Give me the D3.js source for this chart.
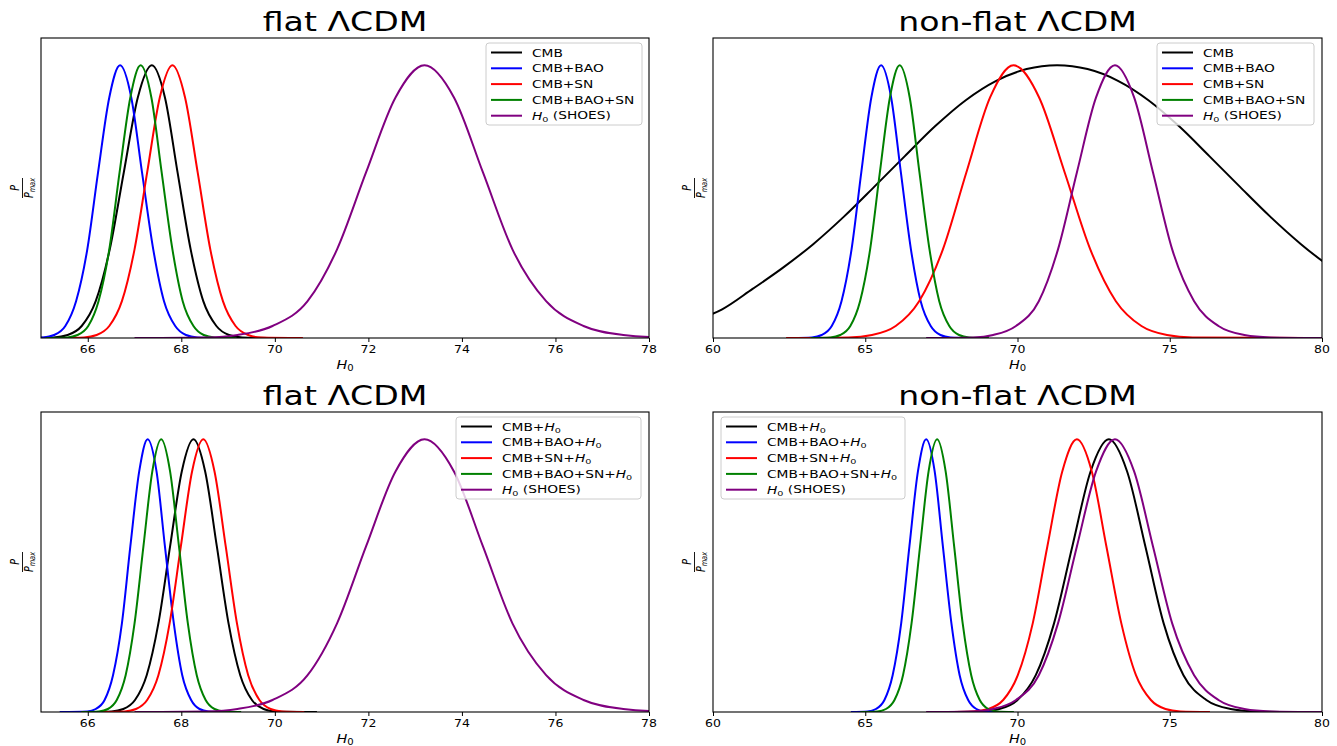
<!DOCTYPE html>
<html><head><meta charset="utf-8">
<script src="https://cdn.jsdelivr.net/npm/d3@7"></script>
<style>body{margin:0;background:#fff}svg{display:block}text{font-family:"DejaVu Sans",sans-serif}</style>
</head><body><svg id="c" width="1337" height="746"></svg>
<script>
// ---- data (H0 values where each curve crosses the shared probability levels) ----
const levels = [0, 0.0022, 0.011, 0.044, 0.135, 0.325, 0.607, 0.882, 1, 0.882, 0.607, 0.325, 0.135, 0.044, 0.011, 0.0022, 0];
const shoesH0 = [67.0, 68.55, 69.20, 69.95, 70.70, 71.33, 71.95, 72.58, 73.20, 73.83, 74.45, 75.08, 75.80, 76.60, 77.45, 78.30, 80.0];

const flatCMB   = [64.67, 65.27, 65.57, 65.87, 66.17, 66.47, 66.77, 67.07, 67.37, 67.65, 67.92, 68.20, 68.47, 68.75, 69.02, 69.30, 69.85];
const flatBAO   = [64.58, 65.05, 65.28, 65.52, 65.75, 65.99, 66.22, 66.46, 66.69, 66.93, 67.16, 67.40, 67.63, 67.87, 68.10, 68.34, 68.81];
const flatSN    = [65.38, 65.92, 66.19, 66.46, 66.73, 67.00, 67.27, 67.54, 67.81, 68.08, 68.35, 68.62, 68.89, 69.16, 69.43, 69.70, 70.60];
const flatBAOSN = [65.11, 65.56, 65.78, 66.01, 66.23, 66.46, 66.68, 66.91, 67.13, 67.36, 67.58, 67.81, 68.03, 68.26, 68.48, 68.71, 69.16];

const nonflatCMB_H0 = [59.3, 60.3, 61.3, 62.3, 63.3, 64.3, 65.3, 66.3, 67.3, 68.3, 69.3, 70.3, 71.3, 72.3, 73.3, 74.3, 75.3, 76.3, 77.3, 78.3, 79.3, 80.3, 81.3];
const nonflatCMB_P  = [0.06, 0.105, 0.18, 0.258, 0.345, 0.445, 0.555, 0.667, 0.777, 0.872, 0.943, 0.986, 1, 0.986, 0.943, 0.872, 0.777, 0.667, 0.555, 0.445, 0.345, 0.258, 0.182];
const nonflatBAO   = [62.60, 63.25, 63.57, 63.90, 64.22, 64.55, 64.87, 65.20, 65.52, 65.85, 66.17, 66.50, 66.82, 67.15, 67.47, 67.80, 68.45];
const nonflatSN    = [62.40, 64.45, 65.22, 66.00, 66.77, 67.55, 68.32, 69.10, 69.87, 70.71, 71.55, 72.39, 73.23, 74.07, 74.91, 75.75, 79.50];
const nonflatBAOSN = [63.21, 63.86, 64.18, 64.51, 64.83, 65.16, 65.48, 65.81, 66.13, 66.46, 66.78, 67.11, 67.43, 67.76, 68.08, 68.41, 69.06];

const flatH0CMB   = [66.01, 66.51, 66.76, 67.01, 67.26, 67.51, 67.76, 68.01, 68.26, 68.51, 68.76, 69.01, 69.26, 69.51, 69.76, 70.01, 70.90];
const flatH0BAO   = [65.40, 65.99, 66.17, 66.36, 66.54, 66.73, 66.91, 67.10, 67.28, 67.47, 67.65, 67.84, 68.02, 68.21, 68.39, 68.58, 68.95];
const flatH0SN    = [66.31, 66.79, 67.03, 67.27, 67.51, 67.75, 67.99, 68.23, 68.47, 68.71, 68.95, 69.19, 69.43, 69.67, 69.91, 70.15, 70.63];
const flatH0BAOSN = [65.86, 66.24, 66.43, 66.62, 66.81, 67.00, 67.19, 67.38, 67.57, 67.76, 67.95, 68.14, 68.33, 68.52, 68.71, 68.90, 69.28];

const nonflatH0CMB   = [67.60, 68.80, 69.40, 70.00, 70.60, 71.20, 71.80, 72.40, 73.00, 73.60, 74.20, 74.80, 75.45, 76.20, 77.00, 77.80, 79.00];
const nonflatH0BAO   = [64.53, 65.08, 65.35, 65.63, 65.90, 66.18, 66.45, 66.73, 67.00, 67.28, 67.55, 67.83, 68.10, 68.38, 68.65, 68.93, 69.48];
const nonflatH0SN    = [67.59, 68.56, 69.04, 69.53, 70.01, 70.50, 70.98, 71.47, 71.95, 72.44, 72.92, 73.41, 73.89, 74.38, 74.86, 75.35, 76.32];
const nonflatH0BAOSN = [64.84, 65.40, 65.68, 65.96, 66.24, 66.52, 66.80, 67.08, 67.36, 67.64, 67.92, 68.20, 68.48, 68.76, 69.04, 69.32, 69.88];

const flatTicks = [66, 68, 70, 72, 74, 76, 78];
const nonflatTicks = [60, 65, 70, 75, 80];
const labelsPlain = ["CMB", "CMB+BAO", "CMB+SN", "CMB+BAO+SN"];
const labelsH0 = ["CMB+", "CMB+BAO+", "CMB+SN+", "CMB+BAO+SN+"];
const colors = ["#000000", "#0000ff", "#ff0000", "#008000", "#800080"];

// ---- layout ----
const SX = 1.25; // horizontal stretch of glyphs
const svg = d3.select("#c");
const zip = (xs, ys) => xs.map((x, i) => [x, ys[i]]);

const panels = [
  {x0: 41, x1: 649, y0: 38, y1: 338, dom: [65, 78], ticks: flatTicks, title: "flat \u039BCDM",
   series: [zip(flatCMB, levels), zip(flatBAO, levels), zip(flatSN, levels), zip(flatBAOSN, levels), zip(shoesH0, levels)],
   h0: false, leg: {x: 486, y: 43, w: 156}},
  {x0: 713, x1: 1322, y0: 38, y1: 338, dom: [60, 80], ticks: nonflatTicks, title: "non-flat \u039BCDM",
   series: [zip(nonflatCMB_H0, nonflatCMB_P), zip(nonflatBAO, levels), zip(nonflatSN, levels), zip(nonflatBAOSN, levels), zip(shoesH0, levels)],
   h0: false, leg: {x: 1157, y: 43, w: 157}},
  {x0: 41, x1: 649, y0: 412, y1: 712, dom: [65, 78], ticks: flatTicks, title: "flat \u039BCDM",
   series: [zip(flatH0CMB, levels), zip(flatH0BAO, levels), zip(flatH0SN, levels), zip(flatH0BAOSN, levels), zip(shoesH0, levels)],
   h0: true, leg: {x: 456, y: 417, w: 185}},
  {x0: 713, x1: 1322, y0: 412, y1: 712, dom: [60, 80], ticks: nonflatTicks, title: "non-flat \u039BCDM",
   series: [zip(nonflatH0CMB, levels), zip(nonflatH0BAO, levels), zip(nonflatH0SN, levels), zip(nonflatH0BAOSN, levels), zip(shoesH0, levels)],
   h0: true, leg: {x: 721, y: 417, w: 184}}
];

function stext(g, x, y, size, anchor) {
  return g.append("text").attr("transform", `translate(${x},${y}) scale(${SX},1)`)
    .attr("font-size", size).attr("text-anchor", anchor || "start").attr("fill", "#000");
}
function addH0(t) {
  t.append("tspan").attr("font-style", "italic").text("H");
  t.append("tspan").attr("font-size", "0.7em").attr("dy", "0.28em").text("0");
}

panels.forEach((p, pi) => {
  const g = svg.append("g");
  const x = d3.scaleLinear().domain(p.dom).range([p.x0, p.x1]);
  const y = d3.scaleLinear().domain([0, 1.1]).range([p.y1, p.y0]);
  const cid = "clip" + pi;
  svg.append("clipPath").attr("id", cid).append("rect")
    .attr("x", p.x0).attr("y", p.y0 - 2).attr("width", p.x1 - p.x0).attr("height", p.y1 - p.y0 + 2);

  const line = d3.line().x(d => x(d[0])).y(d => y(d[1])).curve(d3.curveMonotoneX);
  const cg = g.append("g").attr("clip-path", `url(#${cid})`);
  p.series.forEach((s, i) => {
    cg.append("path").attr("d", line(s)).attr("fill", "none")
      .attr("stroke", colors[i]).attr("stroke-width", 2).attr("stroke-linejoin", "round");
  });

  // x axis
  const ax = g.append("g").attr("transform", `translate(0,${p.y1})`)
    .call(d3.axisBottom(x).tickValues(p.ticks).tickSize(4).tickPadding(3).tickFormat(d3.format("d")));
  ax.select(".domain").remove();
  ax.selectAll(".tick line").attr("stroke", "#000").attr("stroke-width", 1);
  ax.selectAll(".tick text").remove();
  p.ticks.forEach(t => stext(g, x(t), p.y1 + 14.5, 10, "middle").text(t));

  // frame
  g.append("rect").attr("x", p.x0).attr("y", p.y0).attr("width", p.x1 - p.x0).attr("height", p.y1 - p.y0)
    .attr("fill", "none").attr("stroke", "#000").attr("stroke-width", 1.1);

  // title
  stext(g, (p.x0 + p.x1) / 2, p.y0 - 7, 26.5, "middle").text(p.title);

  // x label
  addH0(stext(g, (p.x0 + p.x1) / 2, p.y1 + 31, 11.5, "middle"));

  // y label fraction P / P_max
  const yl = g.append("g").attr("transform", `translate(${p.x0 - 18.5},${(p.y0 + p.y1) / 2}) scale(${SX},1) rotate(-90)`);
  yl.append("text").attr("x", 0).attr("y", -2.8).attr("text-anchor", "middle").attr("font-size", 9.5)
    .attr("font-style", "italic").text("P");
  yl.append("line").attr("x1", -10).attr("x2", 10).attr("y1", 0).attr("y2", 0).attr("stroke", "#000").attr("stroke-width", 0.8);
  const dn = yl.append("text").attr("x", 0).attr("y", 8.5).attr("text-anchor", "middle").attr("font-size", 9.5).attr("font-style", "italic");
  dn.append("tspan").text("P");
  dn.append("tspan").attr("font-size", "0.7em").attr("dy", "0.25em").text("max");

  // legend
  const L = p.leg, rowH = 15.8;
  g.append("rect").attr("x", L.x).attr("y", L.y).attr("width", L.w).attr("height", 82).attr("rx", 3)
    .attr("fill", "#fff").attr("fill-opacity", 0.8).attr("stroke", "#cccccc").attr("stroke-width", 1);
  for (let i = 0; i < 5; i++) {
    const cy = L.y + 9.5 + i * rowH;
    g.append("line").attr("x1", L.x + 5).attr("x2", L.x + 36).attr("y1", cy).attr("y2", cy)
      .attr("stroke", colors[i]).attr("stroke-width", 2);
    const t = stext(g, L.x + 46, cy + 4, 11);
    if (i < 4) {
      if (p.h0) { t.append("tspan").text(labelsH0[i]); addH0(t); }
      else t.text(labelsPlain[i]);
    } else {
      addH0(t); t.append("tspan").attr("dy", "-0.28em").text(" (SHOES)");
    }
  }
});
</script></body></html>
